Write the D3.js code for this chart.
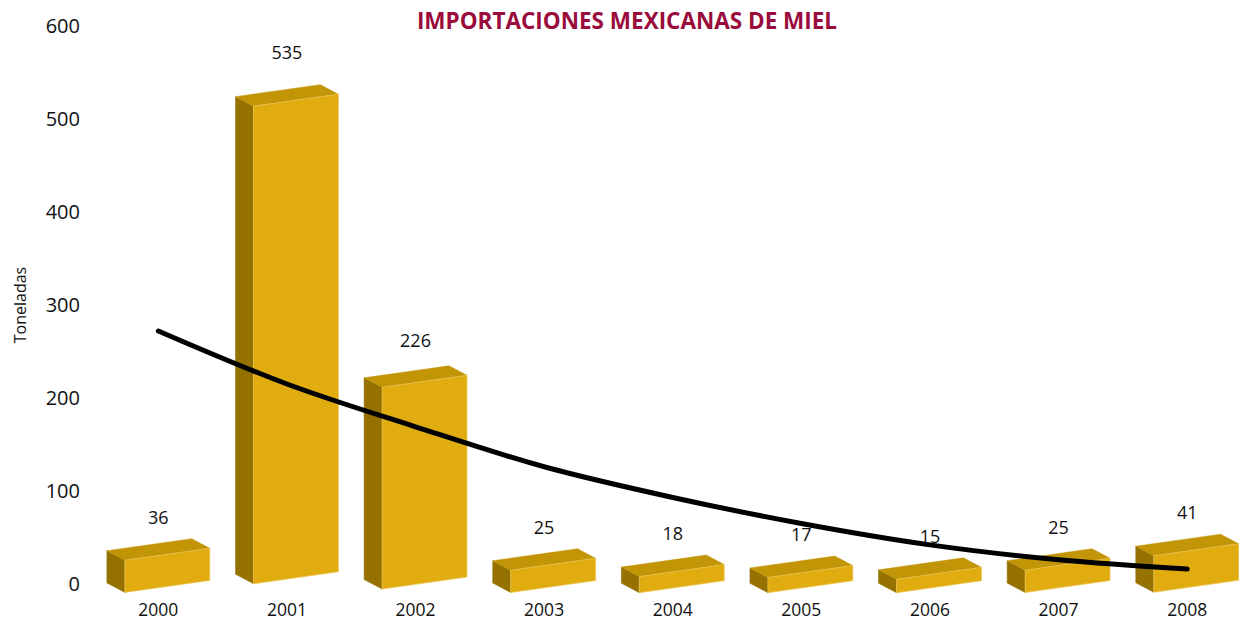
<!DOCTYPE html>
<html>
<head>
<meta charset="utf-8">
<script src="https://cdn.jsdelivr.net/npm/d3@7"></script>
<style>
  html, body { margin: 0; padding: 0; background: #ffffff; }
  svg { display: block; }
</style>
</head>
<body>
<div id="chart"></div>
<script>
// ---- Data ----
const years = ["2000","2001","2002","2003","2004","2005","2006","2007","2008"];
const imports = [36, 535, 226, 25, 18, 17, 15, 25, 41];
// hand-drawn trend curve (value at each year)
const trend = [271, 214, 168, 125, 92, 64, 41, 25, 15];
const yTicks = [0, 100, 200, 300, 400, 500, 600];
const titleText = "IMPORTACIONES MEXICANAS DE MIEL";
const yTitle = "Toneladas";

// ---- Layout ----
const W = 1243, H = 621;
const svg = d3.select("#chart").append("svg").attr("width", W).attr("height", H);

const x = d3.scaleBand().domain(years).range([94, 1251.5]).paddingInner(0.2).paddingOuter(0.1);
const yAxis = d3.scaleLinear().domain([0, 600]).range([583, 25]);
// front face of the 3D bars (slightly different projection)
const yFront = d3.scaleLinear().domain([0, 600]).range([593, 47]);

const depthX = 18, depthY = 9.5, slant = 12, lift = 0.019;
const colFront = "#E0AC10", colSide = "#957200", colTop = "#C29507", colEdge = "#EBC455";

// Y axis labels
const ax = svg.append("g").attr("transform", "translate(80,0)")
  .call(d3.axisLeft(yAxis).tickValues(yTicks).tickSize(0).tickPadding(0));
ax.select(".domain").remove();
ax.selectAll("text")
  .attr("font-family", "'Open Sans', sans-serif").attr("font-size", 20)
  .attr("fill", "#111").attr("dy", "0.35em");

svg.append("text")
  .attr("transform", "translate(20,305) rotate(-90)")
  .attr("text-anchor", "middle").attr("dominant-baseline", "central")
  .attr("font-family", "'Open Sans', sans-serif").attr("font-size", 16).attr("fill", "#111")
  .text(yTitle);

// Title
svg.append("text").attr("x", 627).attr("y", 20)
  .attr("text-anchor", "middle").attr("dominant-baseline", "central")
  .attr("font-family", "'Open Sans', sans-serif").attr("font-weight", "bold")
  .attr("font-size", 22.5).attr("fill", "#990C3C")
  .text(titleText);

// Bars
const data = years.map((yr, i) => ({ yr, v: imports[i] }));
const bars = svg.append("g").selectAll("g").data(data).join("g");

function geom(d) {
  const xf = x(d.yr) + depthX;
  const w = x.bandwidth() - depthX;
  const yt = yFront(d.v);
  const yb = yFront(0) - (yFront(0) - yt) * lift;
  return { xf, w, yt, yb };
}
const pts = a => a.map(p => p.join(",")).join(" ");

bars.append("polygon").attr("fill", colSide).attr("stroke", colSide).attr("stroke-width", 0.5)
  .attr("points", d => { const g = geom(d);
    return pts([[g.xf, g.yb], [g.xf, g.yt], [g.xf - depthX, g.yt - depthY], [g.xf - depthX, g.yb - depthY]]); });
bars.append("polygon").attr("fill", colTop).attr("stroke", colTop).attr("stroke-width", 0.5)
  .attr("points", d => { const g = geom(d);
    return pts([[g.xf, g.yt], [g.xf + g.w, g.yt - slant], [g.xf + g.w - depthX, g.yt - slant - depthY], [g.xf - depthX, g.yt - depthY]]); });
bars.append("polygon").attr("fill", colFront).attr("stroke", colEdge).attr("stroke-width", 0.7)
  .attr("points", d => { const g = geom(d);
    return pts([[g.xf, g.yb], [g.xf + g.w, g.yb - slant], [g.xf + g.w, g.yt - slant], [g.xf, g.yt]]); });

// Value labels
svg.append("g").selectAll("text").data(data).join("text")
  .attr("x", d => x(d.yr) + x.bandwidth() / 2)
  .attr("y", d => yAxis(d.v) - 33)
  .attr("text-anchor", "middle").attr("dominant-baseline", "central")
  .attr("font-family", "'Open Sans', sans-serif").attr("font-size", 18).attr("fill", "#111")
  .text(d => d.v);

// Year labels
svg.append("g").selectAll("text").data(years).join("text")
  .attr("x", d => x(d) + x.bandwidth() / 2)
  .attr("y", 609)
  .attr("text-anchor", "middle").attr("dominant-baseline", "central")
  .attr("font-family", "'Open Sans', sans-serif").attr("font-size", 17.5).attr("fill", "#111")
  .text(d => d);

// Trend line
const line = d3.line()
  .x((d, i) => x(years[i]) + x.bandwidth() / 2)
  .y(d => yAxis(d))
  .curve(d3.curveMonotoneX);
svg.append("path").datum(trend)
  .attr("d", line).attr("fill", "none").attr("stroke", "#000")
  .attr("stroke-width", 5).attr("stroke-linecap", "round");
</script>
</body>
</html>
